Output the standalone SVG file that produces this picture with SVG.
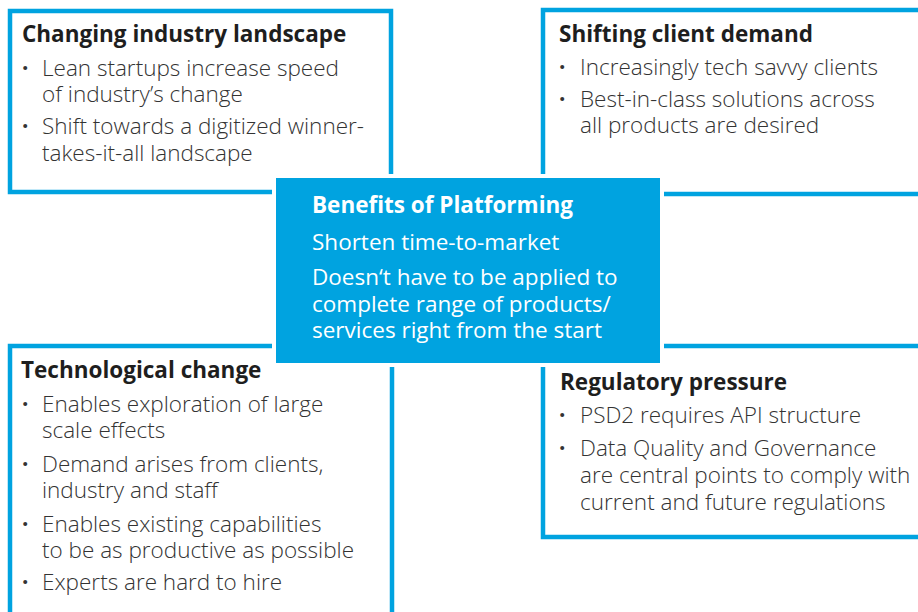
<svg xmlns="http://www.w3.org/2000/svg" width="918" height="612" viewBox="0 0 918 612">
  <style>
    .frame { fill: #ffffff; stroke: #00a3e0; stroke-width: 4.5; }
    .core { fill: #00a3e0; }
    .gap { fill: #ffffff; }
    text { font-family: "Open Sans", "Noto Sans", "DejaVu Sans", sans-serif; }
    .title { font-size: 22.5px; font-weight: 700; fill: #1e1e1e; }
    .body { font-size: 22.5px; font-weight: 300; fill: #333333; }
    .dot { font-weight: 700; }
    .ctitle { font-size: 22.5px; font-weight: 700; fill: #ffffff; }
    .cbody { font-size: 22.5px; font-weight: 400; fill: #ffffff; }
  </style>

  <!-- Changing industry landscape -->
  <g id="industry">
    <rect class="frame" x="10" y="11" width="381" height="181"/>
    <text class="title" x="22" y="42">Changing industry landscape</text>
    <text class="body" y="76"><tspan class="dot" x="22">·</tspan><tspan x="42">Lean startups increase speed</tspan></text>
    <text class="body" x="42" y="102">of industry’s change</text>
    <text class="body" y="134"><tspan class="dot" x="22">·</tspan><tspan x="42">Shift towards a digitized winner-</tspan></text>
    <text class="body" x="42" y="161">takes-it-all landscape</text>
  </g>

  <!-- Shifting client demand -->
  <g id="client">
    <rect class="frame" x="543" y="10" width="400" height="184"/>
    <text class="title" x="559" y="42">Shifting client demand</text>
    <text class="body" y="75"><tspan class="dot" x="559">·</tspan><tspan x="580">Increasingly tech savvy clients</tspan></text>
    <text class="body" y="107"><tspan class="dot" x="559">·</tspan><tspan x="580">Best-in-class solutions across</tspan></text>
    <text class="body" x="580" y="133">all products are desired</text>
  </g>

  <!-- Technological change -->
  <g id="technology">
    <rect class="frame" x="10" y="346" width="382" height="300"/>
    <text class="title" x="21" y="378">Technological change</text>
    <text class="body" y="412"><tspan class="dot" x="22">·</tspan><tspan x="42">Enables exploration of large</tspan></text>
    <text class="body" x="42" y="438">scale effects</text>
    <text class="body" y="472"><tspan class="dot" x="22">·</tspan><tspan x="42">Demand arises from clients,</tspan></text>
    <text class="body" x="42" y="498">industry and staff</text>
    <text class="body" y="532"><tspan class="dot" x="22">·</tspan><tspan x="42">Enables existing capabilities</tspan></text>
    <text class="body" x="42" y="558">to be as productive as possible</text>
    <text class="body" y="590"><tspan class="dot" x="22">·</tspan><tspan x="42">Experts are hard to hire</tspan></text>
  </g>

  <!-- Regulatory pressure -->
  <g id="regulation">
    <rect class="frame" x="543" y="346" width="400" height="191"/>
    <text class="title" x="560" y="390">Regulatory pressure</text>
    <text class="body" y="423"><tspan class="dot" x="559">·</tspan><tspan x="580">PSD2 requires API structure</tspan></text>
    <text class="body" y="456"><tspan class="dot" x="559">·</tspan><tspan x="580">Data Quality and Governance</tspan></text>
    <text class="body" x="580" y="483">are central points to comply with</text>
    <text class="body" x="580" y="510">current and future regulations</text>
  </g>

  <!-- Central block, with a white margin cutting the frames -->
  <g id="platforming">
    <rect class="gap" x="272" y="174" width="392" height="193"/>
    <rect class="core" x="276" y="178" width="384" height="185"/>
    <text class="ctitle" x="312" y="213">Benefits of Platforming</text>
    <text class="cbody" x="312" y="250">Shorten time-to-market</text>
    <text class="cbody" x="312" y="285">Doesn‘t have to be applied to</text>
    <text class="cbody" x="312" y="312">complete range of products/</text>
    <text class="cbody" x="312" y="338">services right from the start</text>
  </g>

  <g id="connectors"/>
</svg>
